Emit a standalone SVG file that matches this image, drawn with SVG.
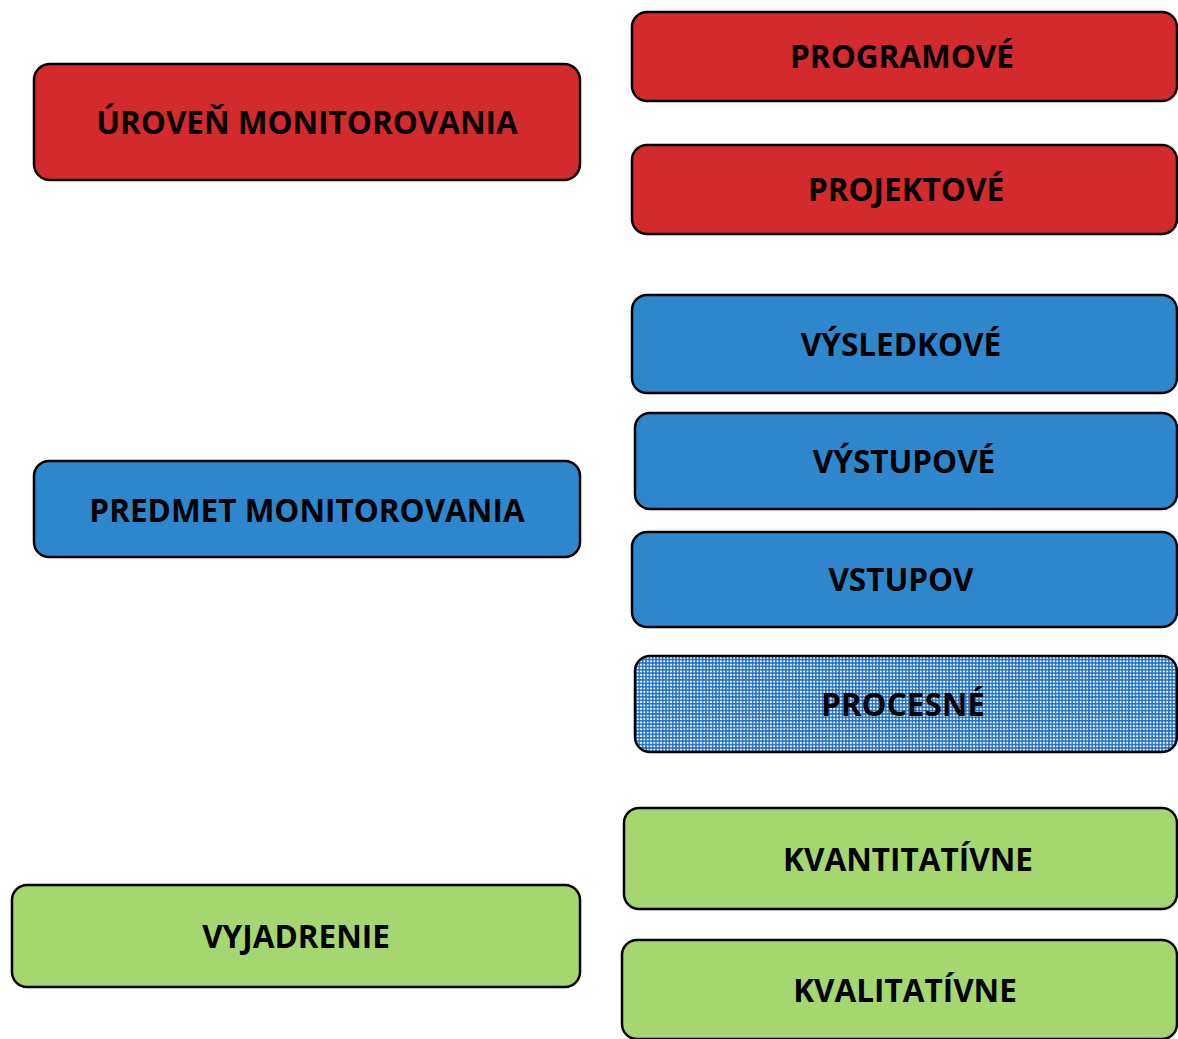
<svg xmlns="http://www.w3.org/2000/svg" width="1178" height="1039" viewBox="0 0 1178 1039">
<defs>
<pattern id="dots" patternUnits="userSpaceOnUse" width="3.33" height="3.4">
<rect width="3.33" height="3.4" fill="#1a6cc2"/>
<rect x="0.7" y="0.7" width="1.9" height="1.9" fill="#ffffff"/>
</pattern>
</defs>
<style>
.box{stroke:#000;stroke-width:2.5}
.red{fill:#d32b2d}
.blue{fill:#2e87cc}
.green{fill:#a5d770}
.lbl{font-family:"Open Sans","Liberation Sans",sans-serif;font-weight:bold;font-size:31.5px;fill:#000;text-anchor:middle}
</style>
<rect width="1178" height="1039" fill="#ffffff"/>
<g id="connectors"></g>
<g id="uroven">
<rect class="box red" x="34" y="64" width="546" height="116" rx="16"/>
<text class="lbl" x="307" y="134">ÚROVEŇ MONITOROVANIA</text>
</g>
<g id="programove">
<rect class="box red" x="632" y="12" width="545" height="89" rx="15"/>
<text class="lbl" x="902" y="68">PROGRAMOVÉ</text>
</g>
<g id="projektove">
<rect class="box red" x="632" y="145" width="545" height="89" rx="15"/>
<text class="lbl" x="906" y="201">PROJEKTOVÉ</text>
</g>
<g id="predmet">
<rect class="box blue" x="34" y="461" width="546" height="96" rx="15"/>
<text class="lbl" x="307" y="522">PREDMET MONITOROVANIA</text>
</g>
<g id="vysledkove">
<rect class="box blue" x="632" y="295" width="545" height="98" rx="15"/>
<text class="lbl" x="901" y="356">VÝSLEDKOVÉ</text>
</g>
<g id="vystupove">
<rect class="box blue" x="635" y="413" width="542" height="96" rx="15"/>
<text class="lbl" x="904" y="473">VÝSTUPOVÉ</text>
</g>
<g id="vstupov">
<rect class="box blue" x="632" y="532" width="545" height="95" rx="15"/>
<text class="lbl" x="901" y="591">VSTUPOV</text>
</g>
<g id="procesne">
<rect class="box" fill="url(#dots)" x="635" y="656" width="542" height="96" rx="15"/>
<text class="lbl" x="903" y="716">PROCESNÉ</text>
</g>
<g id="vyjadrenie">
<rect class="box green" x="12" y="885" width="568" height="102" rx="15"/>
<text class="lbl" x="296" y="948">VYJADRENIE</text>
</g>
<g id="kvantitativne">
<rect class="box green" x="624" y="808" width="553" height="101" rx="15"/>
<text class="lbl" x="908" y="871">KVANTITATÍVNE</text>
</g>
<g id="kvalitativne">
<rect class="box green" x="622" y="940" width="555" height="99" rx="15"/>
<text class="lbl" x="905" y="1002">KVALITATÍVNE</text>
</g>
</svg>
